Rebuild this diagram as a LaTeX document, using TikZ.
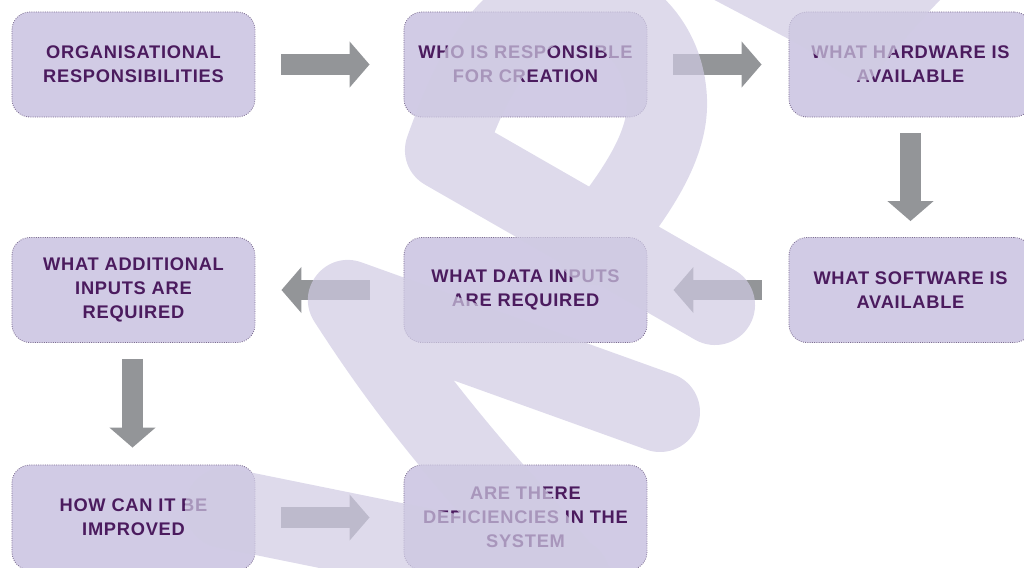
\documentclass[tikz,border=0pt]{standalone}
\usepackage{fontspec}
\newfontfamily\flowfont{Liberation Sans}[LetterSpace=4]
\usetikzlibrary{arrows.meta,calc}

\definecolor{boxfill}{RGB}{209,203,229}
\definecolor{boxline}{RGB}{125,110,145}
\definecolor{boxtext}{RGB}{75,27,94}
\definecolor{arrowgrey}{RGB}{147,149,152}
\definecolor{markfill}{RGB}{208,203,227}

\tikzset{
  stepbox/.style={draw=boxline, densely dotted, line width=0.6pt, fill=boxfill,
    rounded corners=0.45cm, minimum width=6.075cm, minimum height=2.625cm,
    inner sep=0pt, align=center, text=boxtext,
    font=\flowfont\bfseries\fontsize{13}{17.1}\selectfont},
  blockarrow/.style={draw=arrowgrey, line width=14.9pt,
    -{Triangle[width=32pt,length=14.2pt]}},
  watermark/.style={draw=markfill, draw opacity=0.7, line width=2cm,
    line cap=round, line join=round}
}

\begin{document}
\begin{tikzpicture}[x=0.025cm,y=-0.025cm]
\useasboundingbox (0,0) rectangle (1024,567);
\clip (0,0) rectangle (1024,567);

% boxes
\node[stepbox] (org) at (133.5,64.5) {ORGANISATIONAL\\RESPONSIBILITIES};
\node[stepbox] (who) at (525.5,64.5) {WHO IS RESPONSIBLE\\FOR CREATION};
\node[stepbox] (hw) at (910.5,64.5) {WHAT HARDWARE IS\\AVAILABLE};
\node[stepbox] (sw) at (910.5,290) {WHAT SOFTWARE IS\\AVAILABLE};
\node[stepbox] (data) at (525.5,290) {WHAT DATA INPUTS\\ARE REQUIRED};
\node[stepbox] (add) at (133.5,290) {WHAT ADDITIONAL\\INPUTS ARE\\REQUIRED};
\node[stepbox] (how) at (133.5,517.5) {HOW CAN IT BE\\IMPROVED};
\node[stepbox] (def) at (525.5,517.5) {ARE THERE\\DEFICIENCIES IN THE\\SYSTEM};

% arrows
\draw[blockarrow] ($(org.east)+(26,0)$) -- ($(who.west)+(-34,0)$);
\draw[blockarrow] ($(who.east)+(26,0)$) -- ($(hw.west)+(-27,0)$);
\draw[blockarrow] ($(hw.south)+(0,16)$) -- ($(sw.north)+(0,-16)$);
\draw[blockarrow] ($(sw.west)+(-27,0)$) -- ($(data.east)+(26,0)$);
\draw[blockarrow] ($(data.west)+(-34,0)$) -- ($(add.east)+(26,0)$);
\draw[blockarrow] ($(add.south)+(-1,16)$) -- ($(how.north)+(-1,-17)$);
\draw[blockarrow] ($(how.east)+(26,0)$) -- ($(def.west)+(-34,0)$);

% watermark over everything
\draw[watermark] (715,305) -- (445,150) .. controls (470,80) and (505,5) .. (570,0)
  .. controls (625,0) and (665,45) .. (667,100)
  .. controls (669,150) and (630,200) .. (595,245)
  (660,412) -- (348,300) .. controls (390,365) and (430,420) .. (517,518) -- (585,600)
  (225,508) -- (570,578);
\fill[markfill, fill opacity=0.7] (705,-5) -- (800,45) .. controls (830,62) and (855,90) .. (872,78)
  .. controls (890,55) and (920,20) .. (945,-5) -- cycle;
\end{tikzpicture}
\end{document}
